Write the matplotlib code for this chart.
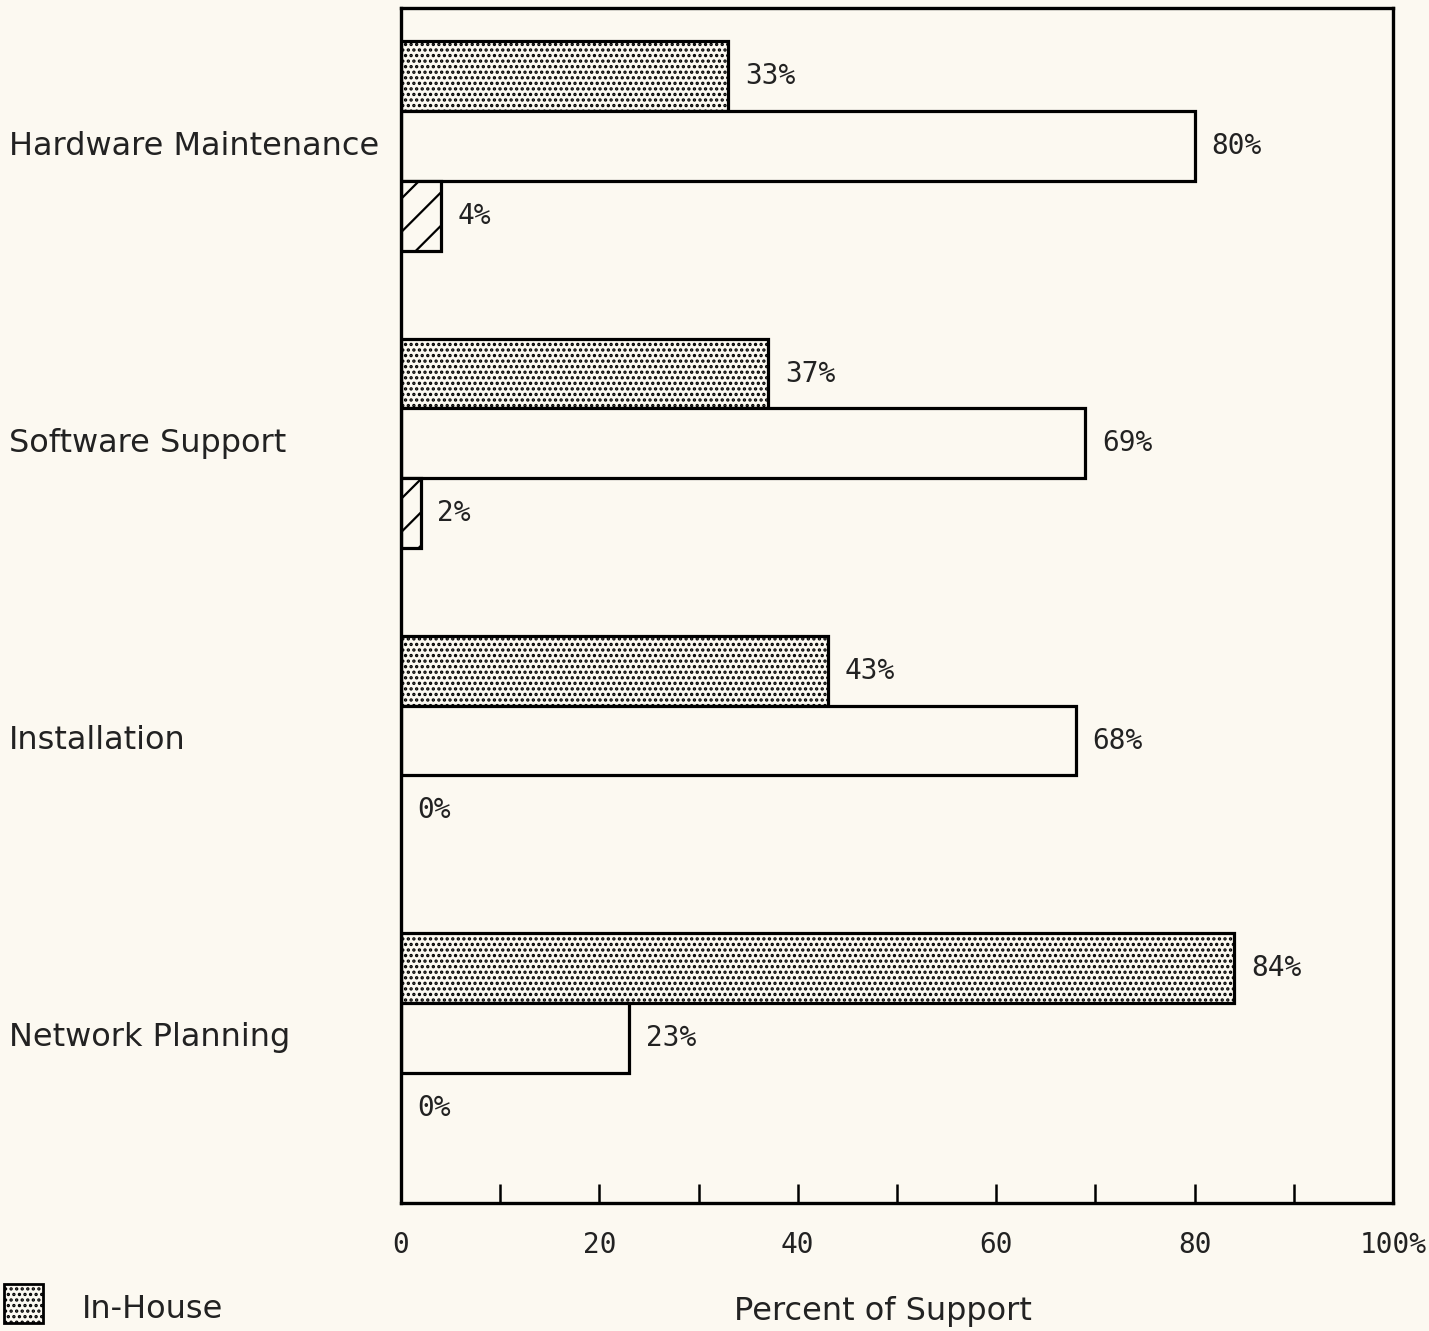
import numpy as np
import matplotlib
matplotlib.use('Agg')
import matplotlib.pyplot as plt
from matplotlib.patches import Rectangle
import matplotlib.transforms as mtransforms

# Data
categories = ['Hardware Maintenance', 'Software Support', 'Installation', 'Network Planning']
in_house = [33, 37, 43, 84]
vendor = [80, 69, 68, 23]
third_party = [4, 2, 0, 0]
x_ticks = [0, 10, 20, 30, 40, 50, 60, 70, 80, 90, 100]
x_labels = ['0', '', '20', '', '40', '', '60', '', '80', '', '100%']

bg = '#fcf9f1'
plt.rcParams['hatch.linewidth'] = 1.6

fig = plt.figure(figsize=(14.29, 13.31), dpi=100, facecolor=bg)
ax = fig.add_axes([0.2806, 0.0962, 0.6942, 0.8978], facecolor=bg)

y = np.arange(len(categories))[::-1].astype(float)
h = 0.235

ax.barh(y + h, in_house, height=h, color=bg, edgecolor='black', linewidth=2.3, hatch='...')
ax.barh(y, vendor, height=h, color=bg, edgecolor='black', linewidth=2.3)
for yy, v in zip(y, third_party):
    if v > 0:
        ax.barh(yy - h, v, height=h, color=bg, edgecolor='black', linewidth=2.3, hatch='/')

# value labels
mono = dict(family='DejaVu Sans Mono', fontsize=20, color='#222222')
for series, off in [(in_house, h), (vendor, 0), (third_party, -h)]:
    for yy, v in zip(y, series):
        ax.annotate(f'{v}%', (v, yy + off), xytext=(12, 0), textcoords='offset points',
                    ha='left', va='center', **mono)

# category labels on the left
trans = mtransforms.blended_transform_factory(fig.transFigure, ax.transData)
for yy, name in zip(y, categories):
    ax.text(0.006, yy, name, transform=trans, ha='left', va='center',
            fontsize=23, family='DejaVu Sans', color='#222222')

ax.set_xlim(0, 100)
ax.set_ylim(-0.556, 3.465)
ax.set_yticks([])
ax.set_xticks(x_ticks)
ax.set_xticklabels(x_labels, **mono)
ax.tick_params(axis='x', direction='in', length=14, width=1.8, pad=20)
for s in ax.spines.values():
    s.set_linewidth(2.4)

fig.text(0.618, 0.0143, 'Percent of Support', ha='center', va='center',
         fontsize=23, family='DejaVu Sans', color='#222222')

# legend entry
fig.patches.append(Rectangle((0.003, 0.006), 0.027, 0.029, transform=fig.transFigure,
                             facecolor=bg, edgecolor='black', linewidth=2, hatch='...'))
fig.text(0.057, 0.0158, 'In-House', ha='left', va='center',
         fontsize=23, family='DejaVu Sans', color='#222222')

fig.savefig('out.png', dpi=100, facecolor=bg)
